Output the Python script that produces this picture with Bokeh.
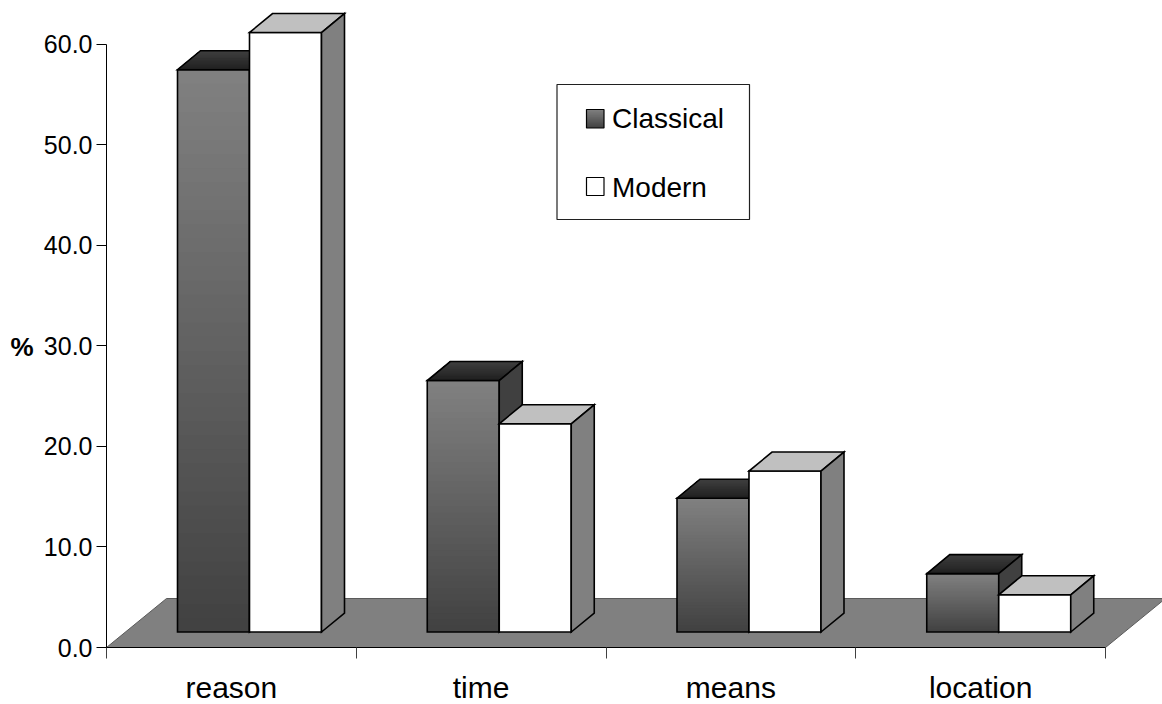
from bokeh.plotting import figure
from bokeh.models import Range1d, FixedTicker, Legend, LegendItem, Label
from bokeh.embed import file_html
from bokeh.resources import INLINE
import numpy as np

categories = ["reason", "time", "means", "location"]
classical = [55.9, 25.0, 13.3, 5.8]
modern = [59.6, 20.7, 16.0, 3.7]
y_ticks = [0, 10, 20, 30, 40, 50, 60]
series_names = ["Classical", "Modern"]

# Pixel scale of the plot frame
PX_X = 249.75
PX_Y = 10.058
LEFT = 106
AXIS_Y = 647

# Pseudo-3D geometry, in data units
BAR_START = 71 / PX_X
BAR_W = 72 / PX_X
DEPTH_X = 23 / PX_X
DEPTH_Y = 19 / PX_Y
BASE_Y = 15.5 / PX_Y
FLOOR_X = 60 / PX_X
FLOOR_Y = 49 / PX_Y
BANDS = 40
INK = dict(line_color="black", line_width=1.6, line_join="miter")

# The frame fills the canvas so that floor, axes and labels all stay inside it
p = figure(width=1162, height=704, output_backend="svg", toolbar_location=None,
           x_range=Range1d(-LEFT / PX_X, (1162 - LEFT) / PX_X),
           y_range=Range1d(-(704 - AXIS_Y) / PX_Y, AXIS_Y / PX_Y),
           min_border_left=0, min_border_right=0, min_border_top=0,
           min_border_bottom=0, outline_line_color=None,
           background_fill_color="white", border_fill_color="white")
p.grid.visible = False

FONT = "Liberation Sans"
xa = p.xaxis[0]
xa.fixed_location = 0
xa.bounds = (0, len(categories))
xa.ticker = FixedTicker(ticks=[i + 0.5 for i in range(len(categories))],
                        minor_ticks=list(range(len(categories) + 1)))
xa.major_label_overrides = {i + 0.5: c for i, c in enumerate(categories)}
xa.major_tick_line_color = None
xa.major_tick_in = 0
xa.major_tick_out = 0
xa.minor_tick_in = 0
xa.minor_tick_out = 11
xa.minor_tick_line_color = "#404040"
xa.axis_line_color = "black"
xa.major_label_standoff = 12
xa.major_label_text_font = FONT
xa.major_label_text_font_size = "30px"
xa.major_label_text_color = "black"

ya = p.yaxis[0]
ya.fixed_location = 0
ya.bounds = (0, 60)
ya.ticker = FixedTicker(ticks=y_ticks, minor_ticks=[])
ya.major_label_overrides = {v: f"{v:.1f}" for v in y_ticks}
ya.major_tick_in = 0
ya.major_tick_out = 10
ya.minor_tick_line_color = None
ya.axis_line_color = "black"
ya.major_tick_line_color = "black"
ya.major_label_standoff = 4
ya.major_label_text_font = FONT
ya.major_label_text_font_size = "25px"
ya.major_label_text_color = "black"

# Floor of the chart
n = len(categories)
p.patch([0, n, n + FLOOR_X, FLOOR_X], [0, 0, FLOOR_Y, FLOOR_Y],
        fill_color="#808080", line_color="#5a5a5a", line_width=1)


def shade(start, stop, t):
    v = int(round(start + (stop - start) * t))
    return f"#{v:02x}{v:02x}{v:02x}"


def draw_gradient_bar(i, value):
    """Classical column: shaded front and top, dark side wall."""
    x0 = i + BAR_START
    x1 = x0 + BAR_W
    y0 = BASE_Y
    y1 = BASE_Y + value
    ts = np.arange(BANDS) / BANDS
    p.quad(left=[x0] * BANDS, right=[x1] * BANDS,
           top=list(y1 - (y1 - y0) * ts), bottom=[y0] * BANDS,
           fill_color=[shade(128, 64, t) for t in ts], line_color=None)
    p.patch([x0, x1, x1, x0], [y0, y0, y1, y1], fill_color=None, **INK)
    # top face, back edge lighter than the front edge
    xs, ys, cs = [], [], []
    for t in ts:
        xs.append([x0 + DEPTH_X * t, x1 + DEPTH_X * t, x1 + DEPTH_X, x0 + DEPTH_X])
        ys.append([y1 + DEPTH_Y * t, y1 + DEPTH_Y * t, y1 + DEPTH_Y, y1 + DEPTH_Y])
        cs.append(shade(32, 64, t))
    p.patches(xs, ys, fill_color=cs, line_color=None)
    p.patch([x0, x1, x1 + DEPTH_X, x0 + DEPTH_X], [y1, y1, y1 + DEPTH_Y, y1 + DEPTH_Y],
            fill_color=None, **INK)
    p.patch([x1, x1 + DEPTH_X, x1 + DEPTH_X, x1], [y0, y0 + DEPTH_Y, y1 + DEPTH_Y, y1],
            fill_color="#404040", **INK)


def draw_plain_bar(i, value):
    """Modern column: white front, light top, mid-grey side wall."""
    x0 = i + BAR_START + BAR_W
    x1 = x0 + BAR_W
    y0 = BASE_Y
    y1 = BASE_Y + value
    p.patch([x0, x1, x1, x0], [y0, y0, y1, y1], fill_color="white", **INK)
    p.patch([x0, x1, x1 + DEPTH_X, x0 + DEPTH_X], [y1, y1, y1 + DEPTH_Y, y1 + DEPTH_Y],
            fill_color="#c0c0c0", **INK)
    p.patch([x1, x1 + DEPTH_X, x1 + DEPTH_X, x1], [y0, y0 + DEPTH_Y, y1 + DEPTH_Y, y1],
            fill_color="#808080", **INK)


for i in range(n):
    draw_gradient_bar(i, classical[i])
    draw_plain_bar(i, modern[i])


def sx(px):
    return (px - LEFT) / PX_X


def sy(px):
    return (AXIS_Y - px) / PX_Y


# Legend box and swatches sit beneath a transparent legend that supplies the labels
p.quad(left=[sx(556.5)], right=[sx(749)], top=[sy(84)], bottom=[sy(219)],
       fill_color="white", line_color="#202020", line_width=1.2)
ts = np.arange(BANDS) / BANDS
sw_x0, sw_x1, sw_y1, sw_y0 = sx(586), sx(603.5), sy(109), sy(127.5)
p.quad(left=[sw_x0] * BANDS, right=[sw_x1] * BANDS,
       top=list(sw_y1 - (sw_y1 - sw_y0) * ts), bottom=[sw_y0] * BANDS,
       fill_color=[shade(128, 64, t) for t in ts], line_color=None)
p.patch([sw_x0, sw_x1, sw_x1, sw_x0], [sw_y0, sw_y0, sw_y1, sw_y1],
        fill_color=None, line_color="black", line_width=1.2)
m_y1, m_y0 = sy(177), sy(195)
p.patch([sw_x0, sw_x1, sw_x1, sw_x0], [m_y0, m_y0, m_y1, m_y1],
        fill_color="white", line_color="black", line_width=1.2)

key_classical = p.quad(left=[], right=[], top=[], bottom=[], fill_alpha=0, line_alpha=0)
key_modern = p.quad(left=[], right=[], top=[], bottom=[], fill_alpha=0, line_alpha=0)
legend = Legend(items=[LegendItem(label=series_names[0], renderers=[key_classical]),
                       LegendItem(label=series_names[1], renderers=[key_modern])],
                location=(586, 500), orientation="vertical",
                padding=0, spacing=37, margin=0,
                glyph_width=18, glyph_height=18, label_standoff=8,
                label_text_font=FONT, label_text_font_size="28px",
                label_text_color="black",
                border_line_color=None, background_fill_alpha=0)
p.add_layout(legend)

p.add_layout(Label(x=10, y=704 - 361, x_units="screen", y_units="screen", text="%",
                   text_font=FONT, text_font_size="26px", text_font_style="bold",
                   text_color="black"))

open("out.html", "w").write(file_html(p, INLINE))
